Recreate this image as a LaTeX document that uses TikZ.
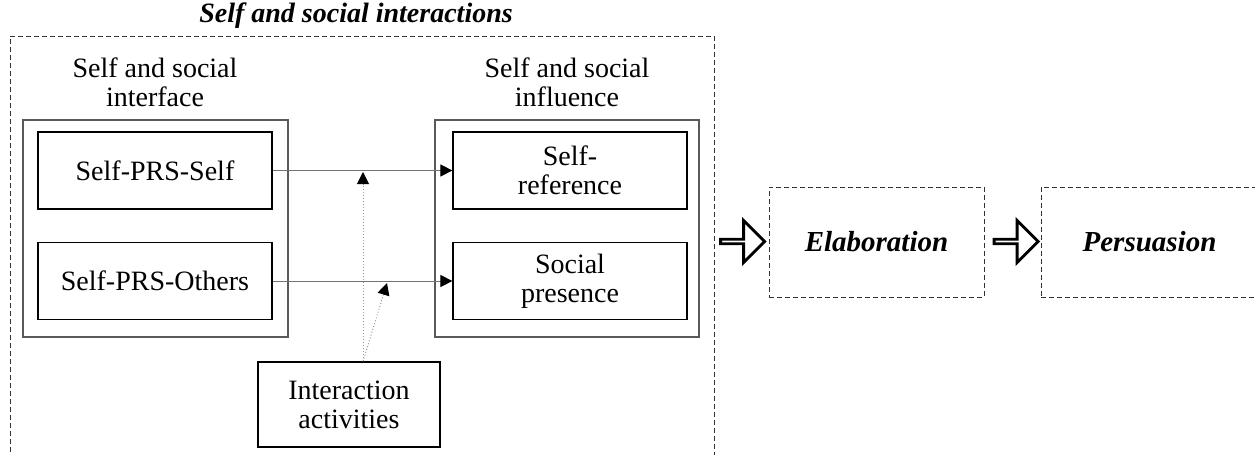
\documentclass[tikz,border=0pt]{standalone}
\usepackage{fontspec}
\setmainfont{Liberation Serif}
\usetikzlibrary{arrows.meta,positioning,shapes.arrows}

\begin{document}
\begin{tikzpicture}[x=0.5pt,y=-0.5pt,
  font=\fontsize{14}{14.5}\selectfont,
  box/.style={draw,line width=0.6pt,minimum width=117pt,minimum height=38.5pt,align=center},
  group/.style={draw=black!65,line width=0.6pt},
  dbox/.style={draw=black!80,line width=0.5pt,dash pattern=on 2.5pt off 1.5pt,minimum width=107.5pt,minimum height=55pt,font=\fontsize{14.5}{15}\selectfont\bfseries\itshape},
  conn/.style={draw=black!55,line width=0.45pt,-{Triangle[length=6pt,width=6pt,color=black]}},
  hint/.style={draw=black!40,densely dotted,line width=0.5pt,-{Triangle[length=6pt,width=6pt,color=black]}},
  bigarrow/.style={single arrow,draw,line width=1.4pt,inner sep=0pt,minimum height=22pt,minimum width=21pt,single arrow head extend=6pt}]
  \clip (0,0) rectangle (1255,455);
  % outer frame
  \node[font=\fontsize{14}{15}\selectfont\bfseries\itshape] (title) at (356,16) {Self and social interactions};
  \draw[black!80,line width=0.5pt,dash pattern=on 2.5pt off 1.5pt] (10,460) |- (714,36) -- (714,460);
  % left group
  \node[align=center] (lblL) at (155,82) {Self and social\\interface};
  \node[group,minimum width=132.5pt,minimum height=108.5pt] (grpL) at (155.5,228.5) {};
  \node[box] (sps) at (155,170.5) {Self-PRS-Self};
  \node[box] (spo) at (155,281) {Self-PRS-Others};
  % right group
  \node[align=center] (lblR) at (567,82) {Self and social\\influence};
  \node[group,minimum width=132pt,minimum height=108.5pt] (grpR) at (567,228.5) {};
  \node[box] (sref) at (570,170.5) {Self-\\reference};
  \node[box] (spres) at (570,281) {Social\\presence};
  \draw[conn] (sps) -- (sref);
  \draw[conn] (spo) -- (spres);
  % moderating activities
  \node[draw,line width=0.6pt,minimum width=91pt,minimum height=42.5pt,align=center] (act) at (349,404.5) {Interaction\\activities};
  \coordinate (src) at ([xshift=7pt]act.north);
  \coordinate (m1) at (363,172);
  \coordinate (m2) at (387,283);
  \draw[hint] (src) -- (m1);
  \draw[hint] (src) -- (m2);
  % outcomes
  \node[dbox] (elab) at (876.5,242) {Elaboration};
  \node[dbox,minimum width=108.5pt] (pers) at (1149.5,242) {Persuasion};
  \node[bigarrow] (a1) at (741.5,241.5) {};
  \node[bigarrow] (a2) at (1015,241.5) {};
\end{tikzpicture}
\end{document}
